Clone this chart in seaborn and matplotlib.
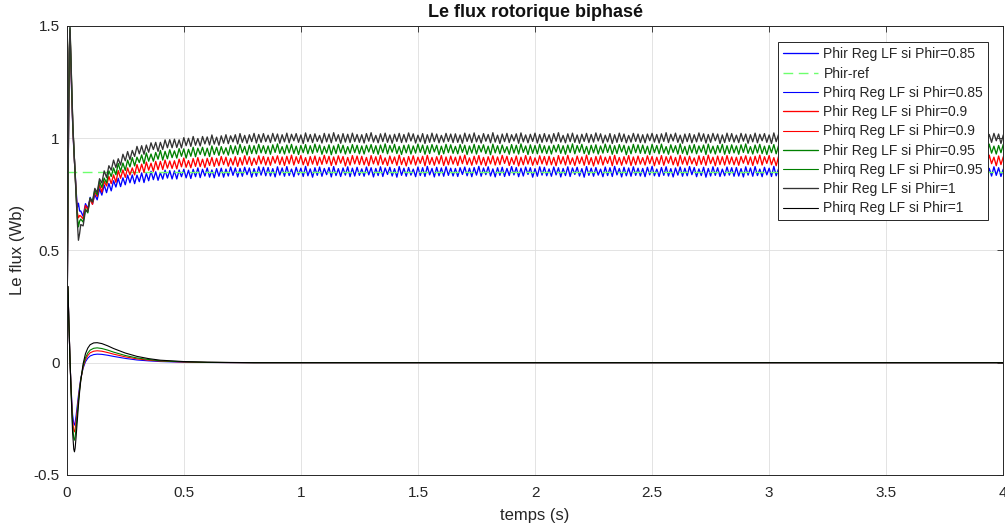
import numpy as np
import matplotlib
matplotlib.use('Agg')
import matplotlib.pyplot as plt
import seaborn as sns

# time base of the d-axis flux traces (s): fine steps over the start-up, then 10 ms
t_start = [0, 0.004, 0.008, 0.011, 0.014, 0.018, 0.022, 0.026, 0.03, 0.035, 0.04, 0.045, 0.05, 0.055]
t_phir = np.concatenate([t_start, np.round(np.arange(0.06, 4.0001, 0.01), 2)])

# start-up spike (Wb)
start_085 = [0, 0.54, 1.08, 1.37, 1.47, 1.32, 1.17, 1.045, 0.955, 0.86, 0.77, 0.69, 0.71, 0.675]
start_09 = [0, 0.55, 1.09, 1.38, 1.48, 1.33, 1.18, 1.05, 0.96, 0.86, 0.76, 0.67, 0.645, 0.655]
start_095 = [0, 0.55, 1.10, 1.39, 1.49, 1.34, 1.19, 1.055, 0.965, 0.86, 0.75, 0.65, 0.605, 0.63]
start_1 = [0, 0.55, 1.10, 1.40, 1.50, 1.35, 1.20, 1.06, 0.97, 0.86, 0.74, 0.63, 0.545, 0.575]

# mean build-up 0.06 .. 0.80 s (mWb), then the set point up to 4 s
rise_085 = [660, 674, 688, 700, 712, 724, 736, 746, 755, 762,
            769, 776, 784, 788, 793, 797, 800, 804, 807, 810,
            812, 814, 817, 819, 822, 823, 825, 826, 828, 829,
            830, 831, 832, 833, 834, 835, 836, 837, 837, 838,
            839, 839, 840, 840, 840, 841, 841, 842, 842, 843,
            843, 844, 844, 844, 845, 845, 845, 846, 846, 846,
            846, 847, 847, 848, 848, 848, 848, 849, 849, 849,
            849, 849, 849, 850, 850]
rise_09 = [640, 660, 679, 695, 712, 728, 744, 757, 770, 780,
           790, 799, 809, 816, 822, 827, 832, 837, 842, 845,
           848, 851, 855, 858, 861, 864, 866, 868, 869, 871,
           873, 875, 876, 877, 879, 880, 880, 882, 882, 884,
           884, 885, 886, 886, 887, 888, 888, 889, 890, 890,
           891, 892, 892, 892, 893, 893, 893, 894, 894, 895,
           895, 895, 896, 897, 897, 897, 897, 898, 898, 899,
           899, 899, 899, 899, 899]
rise_095 = [620, 645, 670, 690, 711, 731, 752, 768, 785, 797,
            810, 822, 834, 843, 851, 858, 863, 870, 876, 880,
            884, 888, 892, 896, 900, 904, 906, 909, 911, 914,
            915, 918, 919, 921, 923, 924, 925, 927, 928, 929,
            930, 931, 932, 933, 934, 934, 935, 936, 937, 938,
            938, 939, 939, 940, 941, 942, 942, 943, 943, 943,
            943, 944, 945, 946, 946, 947, 947, 948, 948, 948,
            948, 948, 948, 949, 949]
rise_1 = [600, 630, 660, 685, 710, 735, 760, 780, 800, 815,
          830, 845, 860, 870, 880, 888, 895, 903, 910, 915,
          920, 925, 930, 935, 940, 944, 947, 950, 953, 956,
          958, 961, 963, 965, 967, 969, 970, 972, 973, 975,
          976, 977, 978, 979, 980, 981, 982, 983, 984, 985,
          986, 987, 987, 988, 989, 990, 990, 991, 991, 992,
          992, 993, 994, 995, 995, 996, 996, 997, 997, 998,
          998, 998, 998, 999, 999]
level_085, level_09, level_095, level_1 = 850, 900, 950, 1000

# inverter ripple on the flux (mWb), read as blocks of 40 samples
rip_a = [15, -22, 20, -14, 24, -18, 12, -21, 19, -16, 22, -19, 14, -23, 17, -15, 21, -20, 16, -18,
         23, -13, 19, -22, 13, -17, 20, -24, 15, -19, 22, -16, 18, -21, 12, -18, 21, -15, 18, -20]
rip_b = [15, -21, 18, -12, 21, -18, 16, -22, 19, -15, 24, -20, 17, -13, 22, -19, 13, -23, 18, -16,
         20, -21, 15, -17, 23, -14, 19, -22, 16, -19, 21, -12, 18, -24, 14, -20, 22, -15, 20, -18]
rip_c = [19, -19, 14, -23, 22, -15, 17, -20, 23, -17, 12, -22, 20, -14, 16, -21, 24, -18, 13, -24,
         18, -16, 21, -20, 15, -13, 19, -23, 23, -17, 14, -21, 17, -15, 22, -22, 16, -19, 20, -16]
rip_d = [13, -20, 21, -14, 18, -23, 15, -17, 22, -21, 17, -12, 20, -19, 14, -24, 23, -16, 16, -20,
         19, -15, 12, -22, 21, -17, 18, -21, 24, -14, 15, -23, 20, -18, 17, -20, 22, -16, 16, -19]

phir_ref_t = [0, 4]
phir_ref = [0.85, 0.85]

# q-axis flux (Wb)
t_q = [0, 0.002, 0.004, 0.006, 0.01, 0.015, 0.02, 0.025, 0.03, 0.033, 0.036, 0.04, 0.045, 0.05, 0.055,
       0.06, 0.07, 0.08, 0.09, 0.1, 0.115, 0.13, 0.15, 0.175, 0.2, 0.25, 0.3, 0.35, 0.4, 0.5, 0.6, 0.7, 0.8, 1.0, 4.0]
phirq_085 = [0, 0.2, 0.34, 0.3, 0.15, -0.02, -0.14, -0.23, -0.27, -0.278, -0.265, -0.235, -0.19, -0.145, -0.105,
             -0.07, -0.025, 0.004, 0.02, 0.03, 0.036, 0.038, 0.037, 0.033, 0.028, 0.019, 0.012, 0.008, 0.005, 0.002, 0.001, 0.0003, 0, 0, 0]
phirq_09 = [0, 0.2, 0.34, 0.3, 0.15, -0.02, -0.15, -0.255, -0.3, -0.308, -0.295, -0.26, -0.21, -0.16, -0.115,
            -0.075, -0.02, 0.013, 0.032, 0.044, 0.051, 0.053, 0.051, 0.045, 0.038, 0.026, 0.017, 0.011, 0.007, 0.003, 0.0012, 0.0004, 0, 0, 0]
phirq_095 = [0, 0.2, 0.34, 0.3, 0.15, -0.02, -0.16, -0.28, -0.335, -0.345, -0.33, -0.29, -0.23, -0.17, -0.12,
             -0.075, -0.015, 0.022, 0.043, 0.056, 0.064, 0.066, 0.063, 0.056, 0.047, 0.032, 0.021, 0.014, 0.008, 0.004, 0.0015, 0.0005, 0, 0, 0]
phirq_1 = [0, 0.2, 0.34, 0.3, 0.15, -0.02, -0.17, -0.31, -0.385, -0.397, -0.38, -0.33, -0.26, -0.19, -0.13,
           -0.08, -0.005, 0.04, 0.065, 0.08, 0.088, 0.089, 0.085, 0.075, 0.063, 0.043, 0.028, 0.018, 0.011, 0.005, 0.002, 0.001, 0, 0, 0]


def phir_trace(start, rise, level, blocks):
    n = len(t_phir) - len(start)
    mean = np.concatenate([rise, np.full(n - len(rise), level)])
    ripple = np.concatenate(blocks)[:n]
    return np.concatenate([start, (mean + ripple) / 1000])


phir_085 = phir_trace(start_085, rise_085, level_085, [rip_a, rip_b, rip_c, rip_d, rip_b, rip_d, rip_a, rip_c, rip_d, rip_a])
phir_09 = phir_trace(start_09, rise_09, level_09, [rip_d, rip_a, rip_b, rip_c, rip_a, rip_c, rip_d, rip_b, rip_c, rip_d])
phir_095 = phir_trace(start_095, rise_095, level_095, [rip_c, rip_d, rip_a, rip_b, rip_d, rip_b, rip_c, rip_a, rip_b, rip_c])
phir_1 = phir_trace(start_1, rise_1, level_1, [rip_b, rip_c, rip_d, rip_a, rip_c, rip_a, rip_b, rip_d, rip_a, rip_b])

sns.set_style('white')
plt.rcParams['font.family'] = ['Liberation Sans', 'DejaVu Sans']

fig = plt.figure(figsize=(10.05, 5.26), dpi=100)
ax = fig.add_axes([0.0664, 0.097, 0.9319, 0.854])

lw = 0.8
lw_d = 0.95
green = (0, 0.5, 0)
sns.lineplot(x=t_phir, y=phir_085, color='b', lw=lw_d, label='Phir Reg LF si Phir=0.85', ax=ax)
sns.lineplot(x=phir_ref_t, y=phir_ref, color='#6dff6d', lw=1, linestyle=(0, (7, 4)), label='Phir-ref', ax=ax)
sns.lineplot(x=t_q, y=phirq_085, color='b', lw=lw, label='Phirq Reg LF si Phir=0.85', ax=ax)
sns.lineplot(x=t_phir, y=phir_09, color='r', lw=lw_d, label='Phir Reg LF si Phir=0.9', ax=ax)
sns.lineplot(x=t_q, y=phirq_09, color='r', lw=lw, label='Phirq Reg LF si Phir=0.9', ax=ax)
sns.lineplot(x=t_phir, y=phir_095, color=green, lw=lw_d, label='Phir Reg LF si Phir=0.95', ax=ax)
sns.lineplot(x=t_q, y=phirq_095, color=green, lw=lw, label='Phirq Reg LF si Phir=0.95', ax=ax)
sns.lineplot(x=t_phir, y=phir_1, color='#333333', lw=lw_d, label='Phir Reg LF si Phir=1', ax=ax)
sns.lineplot(x=t_q, y=phirq_1, color='k', lw=lw, label='Phirq Reg LF si Phir=1', ax=ax)

ax.set_xlim(0, 4)
ax.set_ylim(-0.5, 1.5)
ax.set_xticks(np.arange(0, 4.01, 0.5))
ax.set_yticks([-0.5, 0, 0.5, 1, 1.5])
ax.xaxis.set_major_formatter(matplotlib.ticker.FormatStrFormatter('%g'))
ax.yaxis.set_major_formatter(matplotlib.ticker.FormatStrFormatter('%g'))
ax.grid(True, color='#dedede', lw=0.6)
ax.set_axisbelow(True)
for s in ax.spines.values():
    s.set_color('#262626')
    s.set_linewidth(0.7)
ax.tick_params(direction='in', top=True, right=True, length=4, width=0.6,
               colors='#262626', labelsize=11)
ax.tick_params(axis='x', pad=8)
ax.tick_params(axis='y', pad=5)

ax.set_title('Le flux rotorique biphasé', fontsize=13, fontweight='bold', color='#111111', pad=6)
ax.set_xlabel('temps (s)', fontsize=12, color='#262626', labelpad=6)
ax.set_ylabel('Le flux (Wb)', fontsize=12, color='#262626', labelpad=6)

leg = ax.legend(loc='upper right', bbox_to_anchor=(0.9837, 0.963), borderaxespad=0, fontsize=10,
                frameon=True, fancybox=False, edgecolor='#262626', framealpha=1,
                handlelength=2.5, handletextpad=0.4, labelspacing=0.38, borderpad=0.35)
leg.get_frame().set_linewidth(0.7)

fig.savefig('out.png', dpi=100)
